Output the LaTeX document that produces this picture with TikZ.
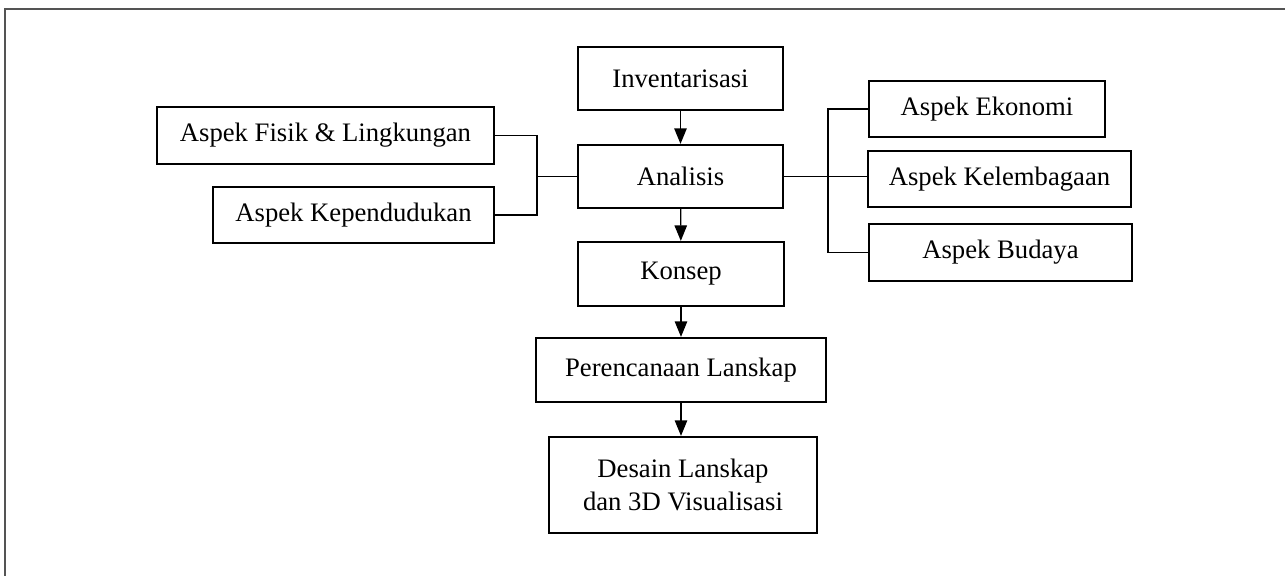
\documentclass[tikz,border=0pt]{standalone}
\usepackage{fontspec}
\setmainfont{Liberation Serif}
\usetikzlibrary{arrows.meta,calc}
\definecolor{FrameClr}{rgb}{0.33,0.33,0.33}
\tikzset{
  blok/.style={draw=black,line width=1pt,align=center,inner sep=2pt,font=\fontsize{12}{14.5}\selectfont},
  hubung/.style={line width=0.6pt,color=black},
  panah/.style={line width=0.6pt,-{Triangle[length=7pt,width=5.6pt]}}
}

\begin{document}
\begin{tikzpicture}[x=0.45pt,y=-0.45pt]
\useasboundingbox (0,0) rectangle (1285,576);
\clip (0,0) rectangle (1285,576);
\draw[FrameClr,line width=1pt] (5,9) rectangle (1300,600);

\node[blok,minimum width=92.25pt,minimum height=28.35pt] (Inv) at (680.5,78.5) {Inventarisasi};
\node[blok,minimum width=92.25pt,minimum height=28.35pt] (Ana) at (680.5,176.5) {Analisis};
\node[blok,minimum width=92.7pt,minimum height=28.8pt] (Kon) at (681,274) {Konsep};
\node[blok,minimum width=130.5pt,minimum height=28.8pt] (Ren) at (681,370) {Perencanaan Lanskap};
\node[blok,minimum width=120.6pt,minimum height=43.2pt] (Des) at (683,485) {Desain Lanskap\\dan 3D Visualisasi};

\node[blok,minimum width=151.65pt,minimum height=25.65pt] (Fis) at (325.5,135.5) {Aspek Fisik \& Lingkungan};
\node[blok,minimum width=126.45pt,minimum height=25.2pt] (Pen) at (353.5,215) {Aspek Kependudukan};

\node[blok,minimum width=106.2pt,minimum height=25.2pt] (Eko) at (987,109) {Aspek Ekonomi};
\node[blok,minimum width=118.35pt,minimum height=25.2pt] (Lem) at (999.5,179) {Aspek Kelembagaan};
\node[blok,minimum width=118.35pt,minimum height=25.65pt] (Bud) at (1000.5,252.5) {Aspek Budaya};

\draw[panah] (Inv) -- (Ana);
\draw[panah] (Ana) -- (Kon);
\draw[panah] (Kon) -- (Ren);
\draw[panah] (Ren) -- (Des.north -| Ren.south);

\coordinate (kiri) at (537,176.5);
\coordinate (kanan) at (828,176.5);
\draw[hubung] (Fis.east) -| (kiri) |- (Pen.east);
\draw[hubung] (kiri) -- (Ana.west);
\draw[hubung] (Eko.west) -| (kanan) |- (Bud.west);
\draw[hubung] (Ana.east) -- (kanan) -- (kanan -| Lem.west);

\end{tikzpicture}
\end{document}
